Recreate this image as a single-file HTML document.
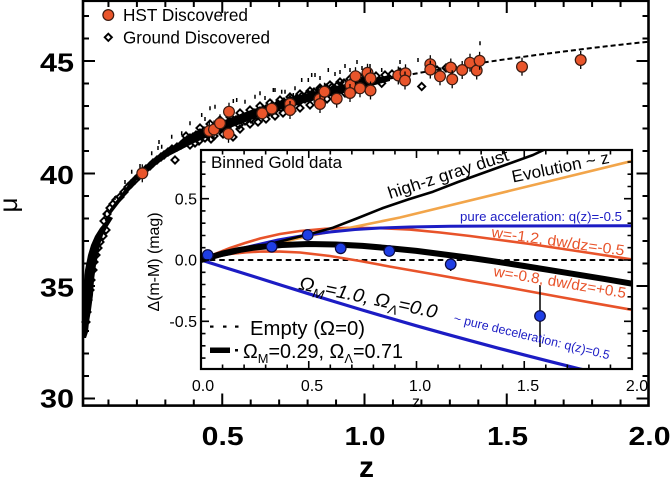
<!DOCTYPE html>
<html><head><meta charset="utf-8"><style>
html,body{margin:0;padding:0;background:#fff;}
svg{display:block;font-family:"Liberation Sans",Arial,sans-serif;}
</style></head><body>
<svg width="671" height="479" viewBox="0 0 671 479" xmlns="http://www.w3.org/2000/svg">
<defs>
<path id="dm" d="M0,-3.6L3.6,0L0,3.6L-3.6,0Z" fill="none" stroke="#000" stroke-width="1.9"/>
<g id="hc"><line x1="0" y1="-9" x2="0" y2="9" stroke="#000" stroke-width="1.3"/><circle r="5.4" fill="#e9552b" stroke="#3a1a10" stroke-width="1.2"/></g>
<clipPath id="ic"><rect x="201" y="150" width="431" height="219"/></clipPath>
<clipPath id="mc"><rect x="83" y="0" width="566" height="406"/></clipPath>
</defs>
<rect width="671" height="479" fill="#fff"/>

<polyline clip-path="url(#mc)" points="82.8,329.9 85.7,295.7 88.5,275.7 94.2,250 108.5,214 136.9,177.1 165.4,154.6 193.8,138.2 222.3,125.1 250.7,114.3 279.2,105.1 307.6,97.2 336.1,90 364.5,83.5 393,77.9 421.4,72.5 449.9,67.7 478.3,63.25 506.8,59.1 535.2,55.15 563.7,51.5 592.1,47.95 620.6,44.7 649,41.65" fill="none" stroke="#000" stroke-width="2" stroke-dasharray="5 3"/>

<polygon points="83,338 83,290 85,270 88,255 91,245 95,236 100,228 105,222 109,216 113,218 108,226 103,235 100,245 98,255 96,265 94,280 93,295 91,310 89,322 88,332 86,338" fill="#000"/>
<polygon points="110,209 137,173 165,150 194,134 222,121 251,110 279,101 308,93 336,86 364,80 390,75 390,81 364,88 336,95 308,102 279,110 251,120 222,131 194,143 165,158 137,180 110,215" fill="#000"/>

<g stroke="#000" stroke-width="1.5">
<path d="M105,213v4M115,196v4M131.7,169.7v4M151.7,151.3v4M158,146v4M159,140v4M161.7,144.7v4M171.7,134.7v4M181.7,131.3v4M190,121.3v4M201.7,113v4M205,117v4M210,106.3v4M215,104.7v4M233.3,99v4M236.7,98v4M245,99.7v4M255,94.7v4M260,91.3v4M273.3,88v4M275,88v4M281.7,89.7v4M285,89.7v4M293.3,93v4M295,86.3v4M301.7,78v4M308.3,78v4M311.7,73v4M315,73v4M328.3,68v4M335,72v4M345,64v4M357,60v4M362,66v4M381.7,68v4M480,41.3v4M400,60v4M418,58v4M225,108v4M265,96v4M320,76v4M340,70v4M350,68v4M370,64v4M140,164v4M125,180v4"/>
</g>

<g>
<use href="#dm" x="88" y="300"/><use href="#dm" x="90" y="290"/><use href="#dm" x="91" y="280"/><use href="#dm" x="93" y="270"/><use href="#dm" x="94" y="262"/><use href="#dm" x="96" y="255"/><use href="#dm" x="98" y="248"/><use href="#dm" x="100" y="242"/><use href="#dm" x="103" y="236"/><use href="#dm" x="106" y="230"/><use href="#dm" x="87" y="312"/><use href="#dm" x="86" y="322"/>
<use href="#dm" x="104" y="221"/><use href="#dm" x="107" y="214"/><use href="#dm" x="110" y="208"/><use href="#dm" x="113" y="204"/><use href="#dm" x="116" y="200"/><use href="#dm" x="120" y="197"/><use href="#dm" x="124" y="192"/><use href="#dm" x="128" y="187"/><use href="#dm" x="131" y="184"/><use href="#dm" x="135" y="180"/><use href="#dm" x="139" y="176"/>
<use href="#dm" x="146" y="169"/><use href="#dm" x="150" y="166"/><use href="#dm" x="153" y="163"/><use href="#dm" x="157" y="160"/><use href="#dm" x="161" y="157"/><use href="#dm" x="164" y="155"/><use href="#dm" x="168" y="152"/><use href="#dm" x="172" y="149"/><use href="#dm" x="175" y="160"/><use href="#dm" x="177" y="147"/><use href="#dm" x="181" y="145"/><use href="#dm" x="184" y="142"/><use href="#dm" x="187" y="140"/><use href="#dm" x="190" y="138"/><use href="#dm" x="186" y="136"/><use href="#dm" x="193" y="137"/><use href="#dm" x="196" y="135"/><use href="#dm" x="199" y="141"/><use href="#dm" x="200" y="133"/><use href="#dm" x="204" y="131"/><use href="#dm" x="207" y="134"/><use href="#dm" x="211" y="139"/><use href="#dm" x="212" y="129"/><use href="#dm" x="215" y="131"/><use href="#dm" x="218" y="127"/><use href="#dm" x="221" y="129"/><use href="#dm" x="224" y="124"/><use href="#dm" x="227" y="128"/><use href="#dm" x="230" y="122"/><use href="#dm" x="233" y="137"/><use href="#dm" x="236" y="120"/><use href="#dm" x="239" y="125"/><use href="#dm" x="242" y="118"/><use href="#dm" x="245" y="121"/><use href="#dm" x="248" y="116"/><use href="#dm" x="251" y="119"/><use href="#dm" x="254" y="113"/><use href="#dm" x="257" y="116"/><use href="#dm" x="260" y="111"/><use href="#dm" x="263" y="114"/><use href="#dm" x="266" y="109"/><use href="#dm" x="269" y="112"/><use href="#dm" x="272" y="106"/><use href="#dm" x="275" y="110"/><use href="#dm" x="278" y="104"/><use href="#dm" x="281" y="108"/><use href="#dm" x="284" y="102"/><use href="#dm" x="287" y="105"/><use href="#dm" x="290" y="100"/><use href="#dm" x="293" y="104"/><use href="#dm" x="296" y="99"/><use href="#dm" x="299" y="102"/><use href="#dm" x="302" y="96"/><use href="#dm" x="305" y="99"/><use href="#dm" x="308" y="94"/><use href="#dm" x="311" y="97"/><use href="#dm" x="314" y="92"/><use href="#dm" x="317" y="95"/><use href="#dm" x="320" y="90"/><use href="#dm" x="323" y="93"/><use href="#dm" x="326" y="88"/><use href="#dm" x="329" y="91"/><use href="#dm" x="332" y="87"/><use href="#dm" x="335" y="89"/><use href="#dm" x="338" y="85"/><use href="#dm" x="341" y="88"/><use href="#dm" x="344" y="83"/><use href="#dm" x="348" y="86"/><use href="#dm" x="352" y="81"/><use href="#dm" x="356" y="84"/><use href="#dm" x="360" y="80"/><use href="#dm" x="364" y="82"/><use href="#dm" x="368" y="78"/><use href="#dm" x="372" y="80"/><use href="#dm" x="376" y="76"/><use href="#dm" x="381.7" y="83.3"/><use href="#dm" x="385" y="75"/><use href="#dm" x="392" y="74"/><use href="#dm" x="400" y="72"/><use href="#dm" x="421.7" y="86.5"/><use href="#dm" x="437" y="70"/><use href="#dm" x="446" y="68"/>
<use href="#dm" x="190" y="145"/><use href="#dm" x="195" y="143"/><use href="#dm" x="205" y="138"/><use href="#dm" x="214" y="136"/><use href="#dm" x="223" y="134"/><use href="#dm" x="240" y="129"/><use href="#dm" x="250" y="124"/><use href="#dm" x="258" y="122"/><use href="#dm" x="266" y="119"/><use href="#dm" x="275" y="116"/><use href="#dm" x="283" y="113"/><use href="#dm" x="292" y="111"/><use href="#dm" x="300" y="108"/><use href="#dm" x="310" y="105"/><use href="#dm" x="318" y="102"/><use href="#dm" x="327" y="99"/><use href="#dm" x="336" y="96"/><use href="#dm" x="345" y="93"/><use href="#dm" x="354" y="91"/><use href="#dm" x="362" y="89"/>
<use href="#dm" x="200" y="128"/><use href="#dm" x="210" y="124"/><use href="#dm" x="220" y="120"/><use href="#dm" x="230" y="117"/><use href="#dm" x="240" y="113"/><use href="#dm" x="250" y="110"/><use href="#dm" x="260" y="106"/><use href="#dm" x="270" y="103"/><use href="#dm" x="280" y="100"/><use href="#dm" x="290" y="97"/><use href="#dm" x="300" y="94"/><use href="#dm" x="310" y="91"/><use href="#dm" x="320" y="88"/><use href="#dm" x="330" y="85"/><use href="#dm" x="340" y="82"/><use href="#dm" x="350" y="79"/><use href="#dm" x="360" y="77"/><use href="#dm" x="370" y="74"/>
</g>

<g>
<use href="#hc" x="142.3" y="173.3"/><use href="#hc" x="209.3" y="131"/><use href="#hc" x="214" y="129.5"/><use href="#hc" x="220" y="123.3"/><use href="#hc" x="229" y="111.7"/><use href="#hc" x="228.5" y="133.8"/><use href="#hc" x="262.2" y="113.3"/><use href="#hc" x="271.7" y="108.7"/><use href="#hc" x="290" y="103.8"/><use href="#hc" x="290" y="110"/><use href="#hc" x="319.5" y="99"/><use href="#hc" x="320" y="104"/><use href="#hc" x="324.5" y="91.7"/><use href="#hc" x="336.7" y="98.7"/><use href="#hc" x="350.5" y="85"/><use href="#hc" x="350" y="93"/><use href="#hc" x="355.5" y="76.2"/><use href="#hc" x="360" y="88.3"/><use href="#hc" x="367.5" y="72.8"/><use href="#hc" x="370.5" y="78.3"/><use href="#hc" x="370.5" y="90.5"/><use href="#hc" x="398.3" y="75.5"/><use href="#hc" x="405.5" y="73.3"/><use href="#hc" x="405" y="80.5"/><use href="#hc" x="430.3" y="64.2"/><use href="#hc" x="430.3" y="69.6"/><use href="#hc" x="440" y="76.3"/><use href="#hc" x="450.8" y="67.5"/><use href="#hc" x="452.2" y="79.3"/><use href="#hc" x="462.2" y="70"/><use href="#hc" x="470" y="62.7"/><use href="#hc" x="476.7" y="70.5"/><use href="#hc" x="479.6" y="60.8"/><use href="#hc" x="522" y="66.7"/><use href="#hc" x="580.7" y="60"/>
</g>

<circle cx="108.3" cy="15" r="5.4" fill="#e9552b" stroke="#3a1a10" stroke-width="1.2"/>
<use href="#dm" x="108.3" y="37.3"/>
<text x="123" y="21" font-size="17.5" textLength="125" lengthAdjust="spacingAndGlyphs">HST Discovered</text>
<text x="123" y="43.5" font-size="17.5" textLength="147" lengthAdjust="spacingAndGlyphs">Ground Discovered</text>

<rect x="83" y="0.8" width="565.5" height="404.8" fill="none" stroke="#000" stroke-width="2.6"/>
<path stroke="#000" stroke-width="2" fill="none" d="M83,61h12M83,173.5h12M83,286h12M83,398.5h12M83,16h6M83,38.5h6M83,83.5h6M83,106h6M83,128.5h6M83,151h6M83,196h6M83,218.5h6M83,241h6M83,263.5h6M83,308.5h6M83,331h6M83,353.5h6M83,376h6
M648.5,61h-12M648.5,173.5h-12M648.5,286h-12M648.5,398.5h-12M648.5,16h-6M648.5,38.5h-6M648.5,83.5h-6M648.5,106h-6M648.5,128.5h-6M648.5,151h-6M648.5,196h-6M648.5,218.5h-6M648.5,241h-6M648.5,263.5h-6M648.5,308.5h-6M648.5,331h-6M648.5,353.5h-6M648.5,376h-6
M222.25,405.5v-12M364.5,405.5v-12M506.75,405.5v-12M108.45,405.5v-6M136.9,405.5v-6M165.35,405.5v-6M193.8,405.5v-6M250.7,405.5v-6M279.15,405.5v-6M307.6,405.5v-6M336.05,405.5v-6M392.95,405.5v-6M421.4,405.5v-6M449.85,405.5v-6M478.3,405.5v-6M535.2,405.5v-6M563.65,405.5v-6M592.1,405.5v-6M620.55,405.5v-6
M222.25,1v12M364.5,1v12M506.75,1v12M108.45,1v6M136.9,1v6M165.35,1v6M193.8,1v6M250.7,1v6M279.15,1v6M307.6,1v6M336.05,1v6M392.95,1v6M421.4,1v6M449.85,1v6M478.3,1v6M535.2,1v6M563.65,1v6M592.1,1v6M620.55,1v6"/>

<g font-weight="bold" font-size="26">
<text x="74" y="71.5" text-anchor="end" textLength="34" lengthAdjust="spacingAndGlyphs">45</text>
<text x="74" y="184" text-anchor="end" textLength="34" lengthAdjust="spacingAndGlyphs">40</text>
<text x="74" y="296.5" text-anchor="end" textLength="34" lengthAdjust="spacingAndGlyphs">35</text>
<text x="74" y="407.5" text-anchor="end" textLength="34" lengthAdjust="spacingAndGlyphs">30</text>
<text x="201.7" y="445" textLength="42" lengthAdjust="spacingAndGlyphs">0.5</text>
<text x="344.5" y="445" textLength="41" lengthAdjust="spacingAndGlyphs">1.0</text>
<text x="487" y="445" textLength="41" lengthAdjust="spacingAndGlyphs">1.5</text>
<text x="628.5" y="445" textLength="42" lengthAdjust="spacingAndGlyphs">2.0</text>
<text x="359" y="477" font-size="30">z</text>
</g>
<text transform="translate(17,205) rotate(-90)" font-size="26" text-anchor="middle">μ</text>

<text transform="translate(159,262) rotate(-90)" font-size="15.5" text-anchor="middle" textLength="99" lengthAdjust="spacingAndGlyphs">Δ(m-M) (mag)</text>
<g font-size="16">
<text x="197" y="204.3" text-anchor="end">0.5</text>
<text x="197" y="265.5" text-anchor="end">0.0</text>
<text x="197" y="327" text-anchor="end">-0.5</text>
<text x="203" y="391" text-anchor="middle">0.0</text>
<text x="312" y="391" text-anchor="middle">0.5</text>
<text x="420" y="391" text-anchor="middle">1.0</text>
<text x="528" y="391" text-anchor="middle">1.5</text>
<text x="637" y="391" text-anchor="middle">2.0</text>
<text x="412" y="407">z</text>
</g>

<rect x="201" y="150" width="431" height="219" fill="#fff"/>
<g clip-path="url(#ic)" fill="none" stroke-linejoin="round" stroke-linecap="round">
<line x1="201" y1="260" x2="632" y2="260" stroke="#000" stroke-width="2" stroke-dasharray="4 5.5"/>
<polyline stroke="#e8532a" stroke-width="2.6" points="201,260 215,254 230,248 245,243 260,238.5 280,234 300,231 325,228.8 350,227.8 380,228.2 410,229.6 440,232.5 470,236 500,240 530,244 560,248.5 590,253 632,259.5"/>
<polyline stroke="#e8532a" stroke-width="2.6" points="201,260 215,256.5 230,254 246,252.3 262,251.5 280,251.6 300,252.5 330,256 360,261 390,266.6 435,274.5 470,280.8 500,286 530,291.5 560,297 595,303.3 632,309.8"/>
<polyline stroke="#f2a54a" stroke-width="2.6" points="201,260 307,236.5 400,217.5 550,181 634,160.5"/>
<polyline stroke="#1c1cc4" stroke-width="3" points="201,260 225,253 250,246.5 278,240 307,235 330,232 355,229.5 380,228 410,227 450,226.3 500,226 634,225.8"/>
<polyline stroke="#1c1cc4" stroke-width="3.2" points="201,260 228,268.5 254.9,276.9 281.8,285.4 308.8,293.8 335.7,302 362.6,310.1 389.5,318 416.5,325.8 443.4,333.3 470.4,340.7 497.3,347.9 524.3,354.9 551.2,361.8 578.1,368.5 605,375"/>
<polyline stroke="#000" stroke-width="2.6" points="201,260 230,254 260,246.5 290,239 310,234 333,227.7 358,218 383,208 408,199.5 433,191.7 458,182 483,173 508,164 533,155 550,147"/>
<polyline stroke="#000" stroke-width="6" points="201,260 212,256.7 222.5,253.6 238,250.2 254.9,247.5 281.8,245 308.8,244 335.7,244.5 362.6,245.9 389.5,248.2 416.5,250.9 443.4,254.4 470.4,257.9 497.3,261.8 524.3,266 551.2,270.3 578.1,274.7 605,279.1 632,283.7"/>
</g>
<g stroke="#000" stroke-width="1.5">
<line x1="540" y1="285" x2="540" y2="347"/>
<line x1="450.7" y1="258" x2="450.7" y2="271"/>
</g>
<g fill="#1f3ee4" stroke="#0a0a40" stroke-width="1.2">
<circle cx="207.7" cy="255" r="5.3"/><circle cx="271.7" cy="246.7" r="5.3"/><circle cx="307.7" cy="235" r="5.3"/><circle cx="340.7" cy="248.3" r="5.3"/><circle cx="389.3" cy="251" r="5.3"/><circle cx="450.7" cy="264.3" r="5.3"/><circle cx="540" cy="316" r="5.3"/>
</g>

<text x="211" y="168" font-size="16.5" textLength="131" lengthAdjust="spacingAndGlyphs">Binned Gold data</text>
<text transform="translate(390,199) rotate(-18)" font-size="17" textLength="126" lengthAdjust="spacingAndGlyphs">high-z gray dust</text>
<text transform="translate(513,182.5) rotate(-11.5)" font-size="17" textLength="99" lengthAdjust="spacingAndGlyphs">Evolution ~ z</text>
<text x="460" y="221" font-size="12.5" fill="#1c1cc4" textLength="162" lengthAdjust="spacingAndGlyphs">pure acceleration: q(z)=-0.5</text>
<text transform="translate(491,237) rotate(8)" font-size="15" fill="#e8532a" textLength="134" lengthAdjust="spacingAndGlyphs">w=-1.2, dw/dz=-0.5</text>
<text transform="translate(493,276) rotate(9.5)" font-size="15" fill="#e8532a" textLength="134" lengthAdjust="spacingAndGlyphs">w=-0.8, dw/dz=+0.5</text>
<text transform="translate(298,289) rotate(12)" font-size="19" font-style="italic" textLength="141" lengthAdjust="spacingAndGlyphs">Ω<tspan font-size="13" dy="5">M</tspan><tspan dy="-5">=1.0, Ω</tspan><tspan font-size="13" dy="5">Λ</tspan><tspan dy="-5">=0.0</tspan></text>
<text transform="translate(453,322) rotate(13.5)" font-size="12.5" fill="#1c1cc4" textLength="160" lengthAdjust="spacingAndGlyphs">~ pure deceleration: q(z)=0.5</text>

<g fill="#000">
<rect x="210" y="325.5" width="3.5" height="2.2"/><rect x="223" y="325.5" width="3.5" height="2.2"/><rect x="235" y="325.5" width="3.5" height="2.2"/>
<rect x="210" y="347.5" width="20" height="5.5"/><rect x="235" y="349" width="3" height="2.5"/>
</g>
<text x="250" y="335" font-size="20" textLength="115" lengthAdjust="spacingAndGlyphs">Empty (Ω=0)</text>
<text x="243" y="358" font-size="20" textLength="160" lengthAdjust="spacingAndGlyphs">Ω<tspan font-size="13" dy="5">M</tspan><tspan dy="-5">=0.29, Ω</tspan><tspan font-size="13" dy="5">Λ</tspan><tspan dy="-5">=0.71</tspan></text>

<rect x="201" y="150" width="431" height="219" fill="none" stroke="#000" stroke-width="2.2"/>
<path stroke="#000" stroke-width="1.6" fill="none" d="M201,198.7h8M201,260h8M201,321.3h8M201,162h4.5M201,174.2h4.5M201,186.5h4.5M201,210.9h4.5M201,223.2h4.5M201,235.5h4.5M201,247.7h4.5M201,272.3h4.5M201,284.5h4.5M201,296.8h4.5M201,309h4.5M201,333.6h4.5M201,345.8h4.5M201,358.1h4.5
M632,198.7h-8M632,260h-8M632,321.3h-8M632,162h-4.5M632,174.2h-4.5M632,186.5h-4.5M632,210.9h-4.5M632,223.2h-4.5M632,235.5h-4.5M632,247.7h-4.5M632,272.3h-4.5M632,284.5h-4.5M632,296.8h-4.5M632,309h-4.5M632,333.6h-4.5M632,345.8h-4.5M632,358.1h-4.5
M308.75,369v-8M416.5,369v-8M524.25,369v-8M222.55,369v-4.5M244.1,369v-4.5M265.65,369v-4.5M287.2,369v-4.5M330.3,369v-4.5M351.85,369v-4.5M373.4,369v-4.5M394.95,369v-4.5M438.05,369v-4.5M459.6,369v-4.5M481.15,369v-4.5M502.7,369v-4.5M545.8,369v-4.5M567.35,369v-4.5M588.9,369v-4.5M610.45,369v-4.5
M308.75,150v8M416.5,150v8M524.25,150v8M222.55,150v4.5M244.1,150v4.5M265.65,150v4.5M287.2,150v4.5M330.3,150v4.5M351.85,150v4.5M373.4,150v4.5M394.95,150v4.5M438.05,150v4.5M459.6,150v4.5M481.15,150v4.5M502.7,150v4.5M545.8,150v4.5M567.35,150v4.5M588.9,150v4.5M610.45,150v4.5"/>
</svg>
</body></html>
